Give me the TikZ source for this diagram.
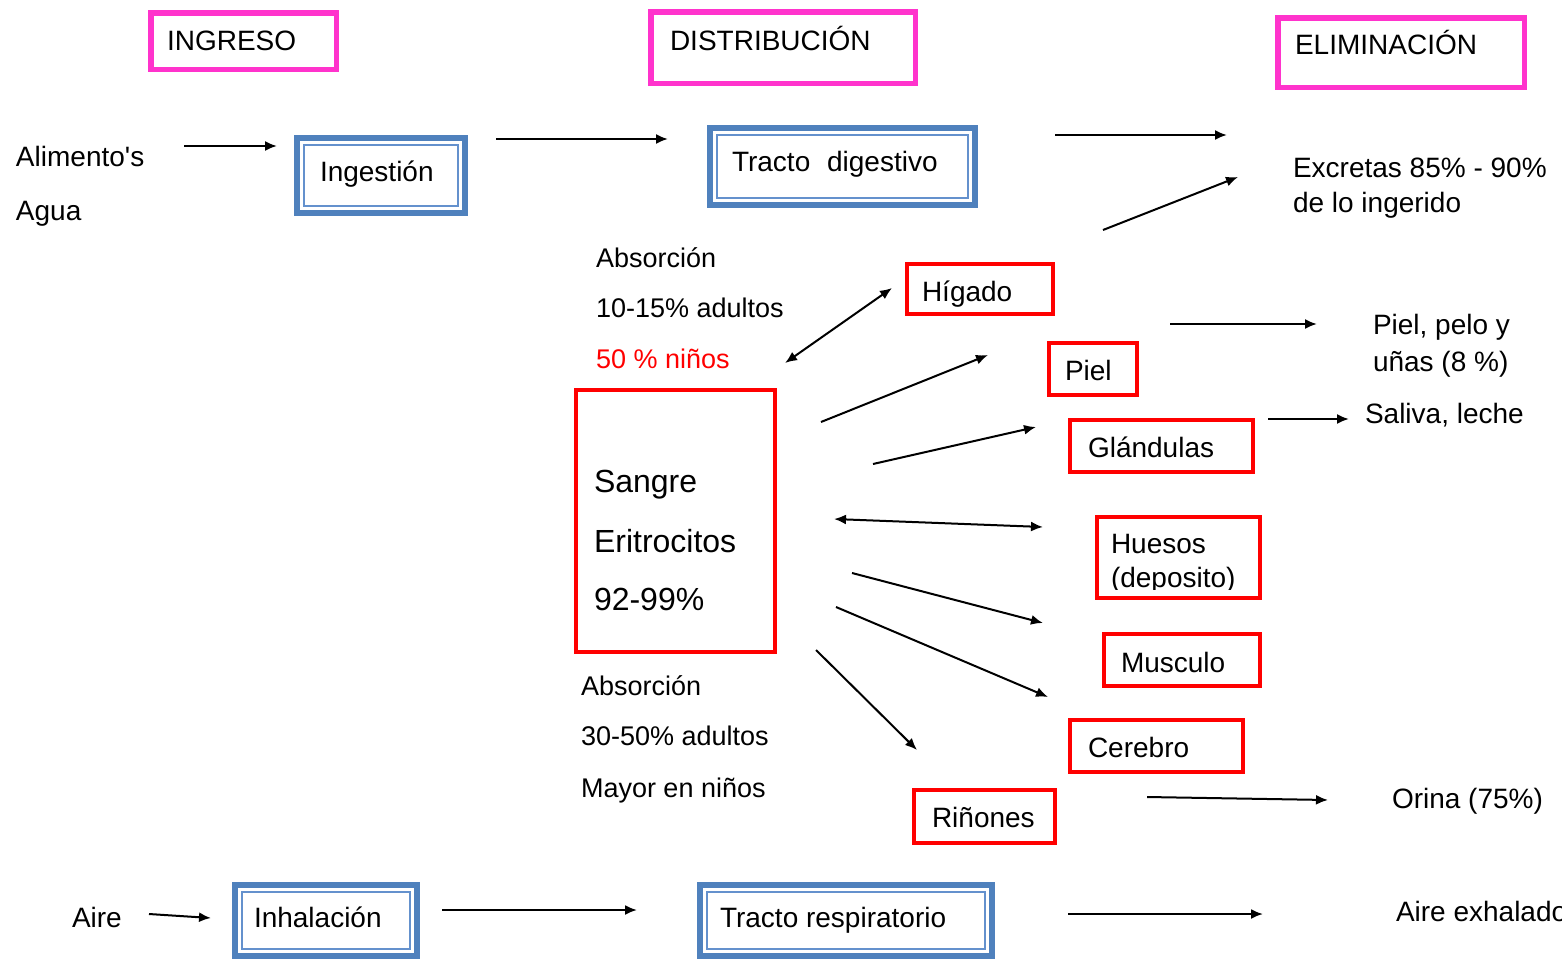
\documentclass[tikz,border=0pt]{standalone}
\usepackage{fontspec}
\setmainfont{Liberation Sans}[Ligatures=TeXOff]
\usetikzlibrary{arrows.meta,calc}
\definecolor{pinkc}{RGB}{255,51,204}
\definecolor{redc}{RGB}{255,0,0}
\definecolor{bluec}{RGB}{79,129,189}
\definecolor{blueinner}{RGB}{100,145,205}
\tikzset{
  txt/.style={anchor=base west,inner sep=0pt,outer sep=0pt,font=\fontsize{28}{34}\selectfont},
  smalltxt/.style={txt,font=\fontsize{27}{32}\selectfont},
  bigtxt/.style={txt,font=\fontsize{32}{38}\selectfont},
  pinkbox/.style={draw=pinkc,line width=5.5pt,inner sep=0pt,outer sep=0pt},
  redbox/.style={draw=redc,line width=4pt,inner sep=0pt,outer sep=0pt},
  bluebox/.style={draw=bluec,line width=6pt,inner sep=0pt,outer sep=0pt},
  blueline/.style={draw=blueinner,line width=1.8pt},
  arr/.style={line width=2pt,-{Latex[length=12pt,width=10pt]}},
  darr/.style={line width=2pt,{Latex[length=12pt,width=10pt]}-{Latex[length=12pt,width=10pt]}},
}
\begin{document}
\begin{tikzpicture}[x=1pt,y=-1pt]
\clip (0,0) rectangle (1562,961);
\useasboundingbox (0,0) rectangle (1562,961);
\fill[white] (0,0) rectangle (1562,961);

% headings
\node[pinkbox,minimum width=185.5pt,minimum height=56.5pt] (hIng) at (243.5,41) {};
\node[txt] (hIngT) at (167,50) {INGRESO};
\node[pinkbox,minimum width=264.5pt,minimum height=71.5pt] (hDis) at (783,47.5) {};
\node[txt] (hDisT) at (670,50) {DISTRIBUCIÓN};
\node[pinkbox,minimum width=246.5pt,minimum height=69.5pt] (hEli) at (1401,52.5) {};
\node[txt] (hEliT) at (1295,54) {ELIMINACIÓN};

% blue double boxes
\node[bluebox,minimum width=168pt,minimum height=75pt] (ing) at (381,175.5) {};
\draw[blueline] ($(ing.north west)+(6.7,6.7)$) rectangle ($(ing.south east)+(-6.7,-6.7)$);
\node[txt] (ingT) at (320,181) {Ingestión};

\node[bluebox,minimum width=265pt,minimum height=77pt] (td) at (842.5,166.5) {};
\draw[blueline] ($(td.north west)+(6.7,6.7)$) rectangle ($(td.south east)+(-6.7,-6.7)$);
\node[txt] (tdT) at (732,171) {Tracto\hspace{9pt} digestivo};

\node[bluebox,minimum width=182pt,minimum height=71pt] (inh) at (326,920.5) {};
\draw[blueline] ($(inh.north west)+(6.7,6.7)$) rectangle ($(inh.south east)+(-6.7,-6.7)$);
\node[txt] (inhT) at (254,927) {Inhalación};

\node[bluebox,minimum width=292pt,minimum height=71pt] (tr) at (846,920.5) {};
\draw[blueline] ($(tr.north west)+(6.7,6.7)$) rectangle ($(tr.south east)+(-6.7,-6.7)$);
\node[txt] (trT) at (720,927) {Tracto respiratorio};

% red boxes
\node[redbox,minimum width=146pt,minimum height=50pt] (hig) at (980,289) {};
\node[txt] (higT) at (922,301) {Hígado};
\node[redbox,minimum width=88pt,minimum height=52pt] (piel) at (1093,369) {};
\node[txt] (pielT) at (1065,380) {Piel};
\node[redbox,minimum width=183pt,minimum height=52pt] (gla) at (1161.5,446) {};
\node[txt] (glaT) at (1088,457) {Glándulas};
\node[redbox,minimum width=199pt,minimum height=262pt] (san) at (675.5,521) {};
\node[bigtxt] (sanT1) at (594,492) {Sangre};
\node[bigtxt] (sanT2) at (594,552) {Eritrocitos};
\node[bigtxt] (sanT3) at (594,610) {92-99\%};
\node[redbox,minimum width=163pt,minimum height=81pt] (hue) at (1178.5,557.5) {};
\node[txt] (hueT1) at (1111,553) {Huesos};
\begin{scope}
\clip (1100,560) rectangle (1256,589.5);
\node[txt] (hueT2) at (1111,587) {(deposito)};
\end{scope}
\node[redbox,minimum width=156pt,minimum height=52pt] (mus) at (1182,660) {};
\node[txt] (musT) at (1121,672) {Musculo};
\node[redbox,minimum width=173pt,minimum height=52pt] (cer) at (1156.5,746) {};
\node[txt] (cerT) at (1088,757) {Cerebro};
\node[redbox,minimum width=141pt,minimum height=53pt] (rin) at (984.5,816.5) {};
\node[txt] (rinT) at (932,827) {Riñones};

% free texts
\node[txt] (alim) at (16,166) {Alimento's};
\node[txt] (agua) at (16,220) {Agua};
\node[txt] (exc1) at (1293,177) {Excretas 85\% - 90\%};
\node[txt] (exc2) at (1293,212) {de lo ingerido};
\node[smalltxt] (abs1) at (596,267) {Absorción};
\node[smalltxt] (abs2) at (596,317) {10-15\% adultos};
\node[smalltxt,text=redc] (abs3) at (596,368) {50 \% niños};
\node[txt] (ppu1) at (1373,334) {Piel, pelo y};
\node[txt] (ppu2) at (1373,371) {uñas (8 \%)};
\node[txt] (sal) at (1365,423) {Saliva, leche};
\node[smalltxt] (absb1) at (581,695) {Absorción};
\node[smalltxt] (absb2) at (581,745) {30-50\% adultos};
\node[smalltxt] (absb3) at (581,797) {Mayor en niños};
\node[txt] (ori) at (1392,808) {Orina (75\%)};
\node[txt] (aire) at (72,927) {Aire};
\node[txt] (airex) at (1396,921) {Aire exhalado};

% arrow end points
\coordinate (a1s) at (184,146);  \coordinate (a1e) at (277,146);
\coordinate (a2s) at (496,139);  \coordinate (a2e) at (668,139);
\coordinate (a3s) at (1055,135); \coordinate (a3e) at (1227,135);
\coordinate (a4s) at (1103,230); \coordinate (a4e) at (1238,177);
\coordinate (a5s) at (785,363);  \coordinate (a5e) at (892,288);
\coordinate (a6s) at (821,422);  \coordinate (a6e) at (988,355);
\coordinate (a7s) at (1170,324); \coordinate (a7e) at (1317,324);
\coordinate (a8s) at (873,464);  \coordinate (a8e) at (1036,427);
\coordinate (a9s) at (1268,419); \coordinate (a9e) at (1349,419);
\coordinate (a10s) at (834,519); \coordinate (a10e) at (1043,527);
\coordinate (a11s) at (852,573); \coordinate (a11e) at (1043,623);
\coordinate (a12s) at (836,607); \coordinate (a12e) at (1048,697);
\coordinate (a13s) at (816,650); \coordinate (a13e) at (917,750);
\coordinate (a14s) at (1147,797); \coordinate (a14e) at (1328,800);
\coordinate (a15s) at (149,914); \coordinate (a15e) at (211,918);
\coordinate (a16s) at (442,910); \coordinate (a16e) at (637,910);
\coordinate (a17s) at (1068,914); \coordinate (a17e) at (1263,914);

\draw[arr] (a1s) -- (a1e);
\draw[arr] (a2s) -- (a2e);
\draw[arr] (a3s) -- (a3e);
\draw[arr] (a4s) -- (a4e);
\draw[darr] (a5s) -- (a5e);
\draw[arr] (a6s) -- (a6e);
\draw[arr] (a7s) -- (a7e);
\draw[arr] (a8s) -- (a8e);
\draw[arr] (a9s) -- (a9e);
\draw[darr] (a10s) -- (a10e);
\draw[arr] (a11s) -- (a11e);
\draw[arr] (a12s) -- (a12e);
\draw[arr] (a13s) -- (a13e);
\draw[arr] (a14s) -- (a14e);
\draw[arr] (a15s) -- (a15e);
\draw[arr] (a16s) -- (a16e);
\draw[arr] (a17s) -- (a17e);
\end{tikzpicture}
\end{document}
